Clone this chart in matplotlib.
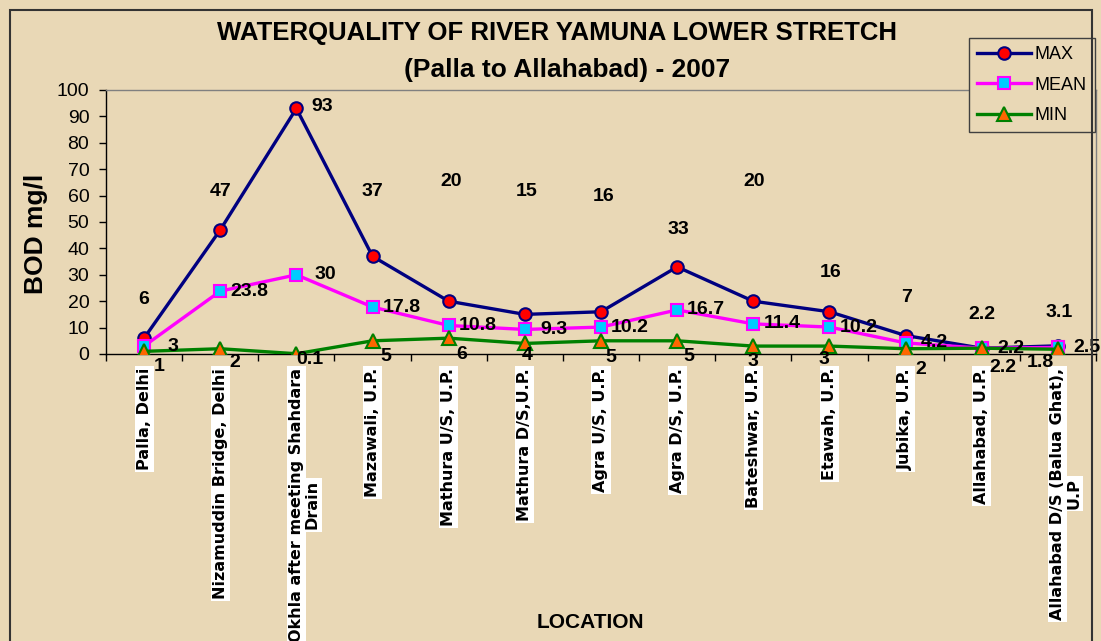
import numpy as np
import matplotlib
matplotlib.use("Agg")
import matplotlib.pyplot as plt
from matplotlib.patches import Rectangle

plt.rcParams['font.family'] = ['Liberation Sans', 'DejaVu Sans']

locations = ["Palla, Delhi", "Nizamuddin Bridge, Delhi",
             "Okhla after meeting Shahdara\nDrain", "Mazawali, U.P.",
             "Mathura U/S, U.P.", "Mathura D/S,U.P.", "Agra U/S, U.P.",
             "Agra D/S, U.P.", "Bateshwar, U.P.", "Etawah, U.P.",
             "Jubika, U.P.", "Allahabad, U.P.",
             "Allahabad D/S (Balua Ghat),\nU.P"]
bod_max = [6, 47, 93, 37, 20, 15, 16, 33, 20, 16, 7, 2.2, 3.1]
bod_mean = [3, 23.8, 30, 17.8, 10.8, 9.3, 10.2, 16.7, 11.4, 10.2, 4.2, 2.2, 2.5]
bod_min = [1, 2, 0.1, 5, 6, 4, 5, 5, 3, 3, 2, 2.2, 1.8]

# label offsets in pixels (layout only)
max_off = [(0, 39), (0, 38), (26, 2), (0, 65), (2, 120), (2, 123), (3, 115),
           (1, 37), (1, 120), (1, 39), (1, 38), (0, 34), (1, 33)]
min_off = [(15, -15), (15, -14), (13, -6), (13, -16), (13, -16), (2, -12),
           (10, -17), (12, -16), (0, -15), (-6, -13), (15, -21), (21, -19), (-18, -13)]

bg = "#E9D8B6"
fig = plt.figure(figsize=(11.01, 6.41), dpi=100, facecolor=bg)
ax = fig.add_axes([106/1101, 1-354/641, 990/1101, 264/641])
ax.set_facecolor(bg)

x = np.arange(len(locations))
ax.plot(x, bod_max, color="#000080", lw=2.4, marker="o", ms=9,
        mfc="#FF0000", mec="#000080", mew=1.5, label="MAX", zorder=3)
ax.plot(x, bod_mean, color="#FF00FF", lw=2.4, marker="s", ms=8.5,
        mfc="#00CCFF", mec="#FF00FF", mew=1.5, label="MEAN", zorder=4)
ax.plot(x, bod_min, color="#008000", lw=2.4, marker="^", ms=9.5,
        mfc="#FF6600", mec="#008000", mew=1.5, label="MIN", zorder=5)

lbl = dict(fontsize=14, fontweight="bold", textcoords="offset pixels",
           ha="center", va="center", zorder=6)
for i, v in enumerate(bod_max):
    ax.annotate(f"{v:g}", (x[i], v), xytext=max_off[i], **lbl)
for i, v in enumerate(bod_mean):
    ax.annotate(f"{v:g}", (x[i], v), xytext=(29, 0), **lbl)
for i, v in enumerate(bod_min):
    ax.annotate(f"{v:g}", (x[i], v), xytext=min_off[i], **lbl)

ax.set_xlim(-0.5, len(locations) - 0.5)
ax.set_ylim(0, 100)
ax.set_yticks(range(0, 101, 10))
ax.tick_params(axis="y", labelsize=14, length=5, width=1, pad=7)

first_lines = [s.split("\n")[0] for s in locations]
ax.set_xticks(x)
ax.set_xticklabels(first_lines, rotation=90, fontsize=11.5, fontweight="bold",
                   family="DejaVu Sans", va="top", ha="center")
for t in ax.get_xticklabels():
    t.set_bbox(dict(facecolor="white", edgecolor="none", pad=1.5))
ax.tick_params(axis="x", length=0, pad=10)
ax.set_xticks(np.arange(-0.5, len(locations), 1), minor=True)
ax.tick_params(axis="x", which="minor", length=5, width=1)

for s in ["left", "bottom"]:
    ax.spines[s].set_color("black")
    ax.spines[s].set_linewidth(1)
for s in ["top", "right"]:
    ax.spines[s].set_color("#808080")
    ax.spines[s].set_linewidth(1)

fig.text(36/1101, 1-234/641, "BOD mg/l", fontsize=19, fontweight="bold",
         rotation=90, ha="center", va="center")
fig.text(557/1101, 1-33/641, "WATERQUALITY OF RIVER YAMUNA LOWER STRETCH",
         fontsize=18.5, fontweight="bold", ha="center", va="center")
fig.text(567/1101, 1-70/641, "(Palla to Allahabad) - 2007",
         fontsize=19, fontweight="bold", ha="center", va="center")
fig.text(590/1101, 1-622/641, "LOCATION", fontsize=15, fontweight="bold",
         ha="center", va="center")

leg = ax.legend(loc="upper right", bbox_to_anchor=(1095/1101, 1-38/641),
                bbox_transform=fig.transFigure, fontsize=13, frameon=True,
                fancybox=False, edgecolor="#404040", facecolor=bg,
                framealpha=1, handlelength=3.0, borderpad=0.45,
                labelspacing=0.75, handletextpad=0.2, borderaxespad=0)
leg.get_frame().set_linewidth(1)
leg.set_zorder(10)

# second lines of the wrapped location names, in their own white boxes
fig.canvas.draw()
inv = fig.transFigure.inverted()
for i, s in enumerate(locations):
    if "\n" in s:
        bb = ax.get_xticklabels()[i].get_window_extent()
        cx, cy = inv.transform(((bb.x0 + bb.x1) / 2 + 16, (bb.y0 + bb.y1) / 2))
        fig.text(cx, cy, s.split("\n")[1], rotation=90, fontsize=11.5,
                 fontweight="bold", family="DejaVu Sans", ha="center",
                 va="center", bbox=dict(facecolor="white", edgecolor="none", pad=1.5))

fig.patches.append(Rectangle((10/1101, -0.01), 1082/1101, 1 - 10/641 + 0.01,
                             transform=fig.transFigure, fill=False,
                             edgecolor="#333333", lw=1.5))

fig.savefig("out.png", dpi=100, facecolor=bg)
